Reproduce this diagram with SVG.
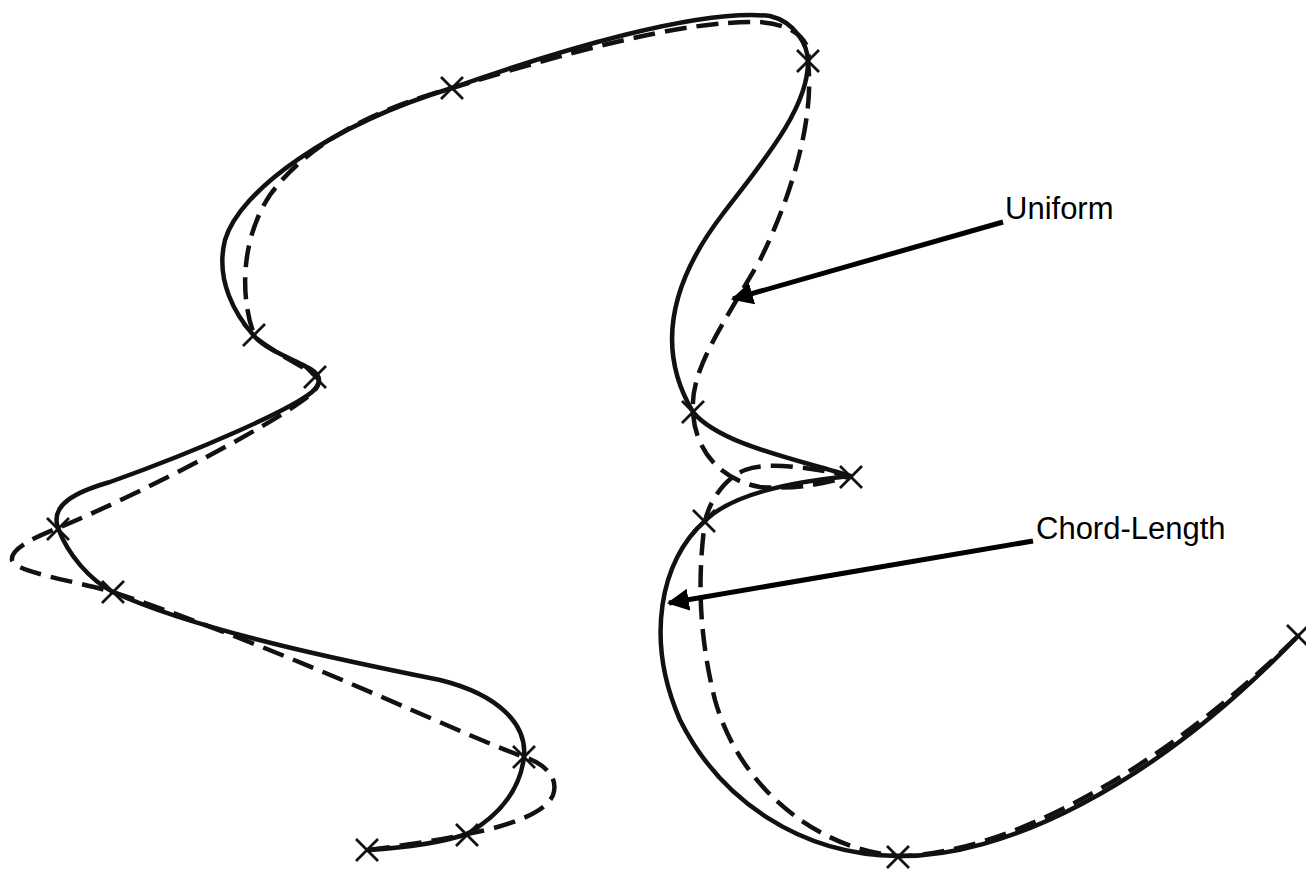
<svg xmlns="http://www.w3.org/2000/svg" width="1306" height="876" viewBox="0 0 1306 876">
<style>
.curve{fill:none;stroke:#111;stroke-width:4.5;stroke-linecap:round;stroke-linejoin:round}
.dash{stroke-dasharray:22 10;stroke-linecap:butt}
.x{stroke:#111;stroke-width:2.8;fill:none}
.arrow{stroke:#000;stroke-width:5;fill:none}
.lbl{font-family:"Liberation Sans",Arial,sans-serif;font-size:31px;fill:#000}
</style>
<defs>
<marker id="ah" viewBox="0 0 10 10" refX="9" refY="5" markerWidth="4.4" markerHeight="4.4" orient="auto" markerUnits="strokeWidth">
<path d="M0,0 L10,5 L0,10 z" fill="#000"/>
</marker>
<g id="xm"><path class="x" d="M-11,-11 L11,11 M-11,11 L11,-11"/></g>
</defs>
<rect width="1306" height="876" fill="#fff"/>
<g id="connectors">
<path id="chord" class="curve" d="M368,850 C400,848 440,843 467,834 C500,815 520,790 524,757 C527,725 500,695 440,680 C360,664 200,632 113,592 C90,580 68,555 58,528 C50,505 75,492 110,482 C200,450 290,410 312,392 C325,380 318,372 305,366 C285,356 265,348 255,337 C235,315 215,280 225,240 C240,190 330,125 452,88 C560,50 700,8 770,16 C795,22 808,45 808,62 C808,110 760,165 722,215 C680,270 650,340 693,412 C720,445 800,460 850,476 C790,482 730,495 705,521 C660,560 645,640 680,720 C720,800 800,855 898,856 C1000,858 1150,790 1298,636"/>
<path id="uniform" class="curve dash" d="M368,850 C400,846 440,840 467,834 C500,828 545,815 553,795 C560,775 540,762 524,757 C450,730 300,655 113,592 C70,580 15,572 12,560 C10,548 40,535 58,528 C150,490 280,420 310,395 C322,385 320,376 315,375 C300,365 270,350 255,337 C240,300 240,240 270,195 C310,140 380,108 452,88 C560,55 680,20 760,22 C800,25 812,45 808,62 C815,120 790,200 760,260 C720,330 690,370 693,412 C695,450 720,480 760,487 C800,490 830,482 850,476 C820,470 770,460 745,470 C725,478 710,500 705,521 C700,560 695,620 715,700 C740,790 820,850 898,856 C1000,855 1150,780 1298,636"/>
<line class="arrow" x1="1003" y1="222" x2="733" y2="299" marker-end="url(#ah)"/>
<line class="arrow" x1="1033" y1="541" x2="669" y2="603" marker-end="url(#ah)"/>
</g>
<g id="points">
<use href="#xm" x="367" y="850"/>
<use href="#xm" x="467" y="835"/>
<use href="#xm" x="524" y="757"/>
<use href="#xm" x="113" y="592"/>
<use href="#xm" x="58" y="529"/>
<use href="#xm" x="315" y="377"/>
<use href="#xm" x="254" y="335"/>
<use href="#xm" x="452" y="88"/>
<use href="#xm" x="808" y="61"/>
<use href="#xm" x="693" y="412"/>
<use href="#xm" x="851" y="477"/>
<use href="#xm" x="704" y="521"/>
<use href="#xm" x="898" y="857"/>
<use href="#xm" x="1298" y="636"/>
</g>
<g id="label-uniform"><text class="lbl" x="1005" y="219">Uniform</text></g>
<g id="label-chord"><text class="lbl" x="1036" y="539">Chord-Length</text></g>
</svg>
